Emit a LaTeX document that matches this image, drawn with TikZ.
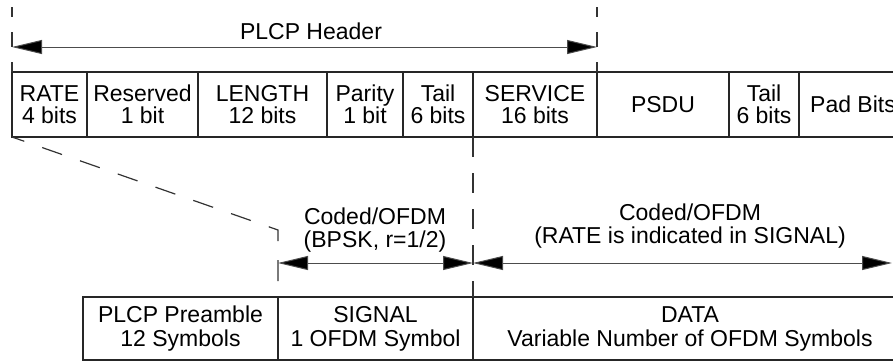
\documentclass[tikz,border=0pt]{standalone}
\usepackage{fontspec}
\setmainfont{Liberation Sans}
\usetikzlibrary{arrows.meta}

\tikzset{bigtri/.tip={Triangle[length=30pt,width=14pt,fill=black]}}

\begin{document}
\begin{tikzpicture}[x=1pt,y=-1pt,
  every node/.style={font=\fontsize{23}{23}\selectfont, text=black,
    inner sep=0pt, outer sep=0pt, align=center},
  field/.style={draw=black!85, line width=1.2pt, minimum height=65pt,
    anchor=north west, font=\fontsize{23}{22}\selectfont},
  slot/.style={draw=black!85, line width=1.2pt, minimum height=63pt,
    anchor=north west, font=\fontsize{23}{24}\selectfont},
  span/.style={line width=1pt, draw=black!70, {bigtri}-{bigtri}},
  ext/.style={line width=1.2pt, draw=black!80},
]
\useasboundingbox (0,0) rectangle (893,362);

% PLCP header and payload fields
\node[field, minimum width=75pt]  (rate)     at (12,72)  {RATE\\4 bits};
\node[field, minimum width=111pt] (reserved) at (87,72)  {Reserved\\1 bit};
\node[field, minimum width=129pt] (length)   at (198,72) {LENGTH\\12 bits};
\node[field, minimum width=76pt]  (parity)   at (327,72) {Parity\\1 bit};
\node[field, minimum width=70pt]  (tailA)    at (403,72) {Tail\\6 bits};
\node[field, minimum width=124pt] (service)  at (473,72) {SERVICE\\16 bits};
\node[field, minimum width=132pt] (psdu)     at (597,72) {PSDU};
\node[field, minimum width=70pt]  (tailB)    at (729,72) {Tail\\6 bits};
\node[field, minimum width=108pt] (pad)      at (799,72) {Pad Bits};

% PPDU frame
\node[slot, minimum width=195pt] (preamble) at (83,297)  {PLCP Preamble\\12 Symbols};
\node[slot, minimum width=195pt] (signal)   at (278,297) {SIGNAL\\1 OFDM Symbol};
\node[slot, minimum width=434pt] (data)     at (473,297) {DATA\\Variable Number of OFDM Symbols};

% PLCP header span
\coordinate (ltop) at (12,7);
\coordinate (rtop) at (597,7);
\draw[ext, dash pattern=on 10pt off 15pt on 15pt off 15pt on 10pt] (ltop) -- (rate.north west);
\draw[ext, dash pattern=on 10pt off 15pt on 15pt off 15pt on 10pt] (rtop) -- (service.north east);
\coordinate (hl) at (12,47);
\coordinate (hr) at (597,47);
\draw[span] (hl) -- (hr);
\node (hdr) at (311,31) {PLCP Header};

% mapping of the header onto the SIGNAL symbol
\coordinate (bend) at (278,230);
\draw[ext, dash pattern=on 21pt off 19pt, dash phase=8pt]
  (rate.south west) -- (bend) -- (signal.north west);
\draw[ext, dash pattern=on 20pt off 16pt] (tailA.south east) -- (signal.north east);

% coding spans
\coordinate (sl) at (278,263);
\coordinate (sr) at (473,263);
\coordinate (dr) at (892,263);
\draw[span] (sl) -- (sr);
\draw[span] (sr) -- (dr);
\node (codeA) at (375,230) {Coded/OFDM\\(BPSK, r=1/2)};
\node (codeB) at (690,226) {Coded/OFDM\\(RATE is indicated in SIGNAL)};
\end{tikzpicture}
\end{document}
